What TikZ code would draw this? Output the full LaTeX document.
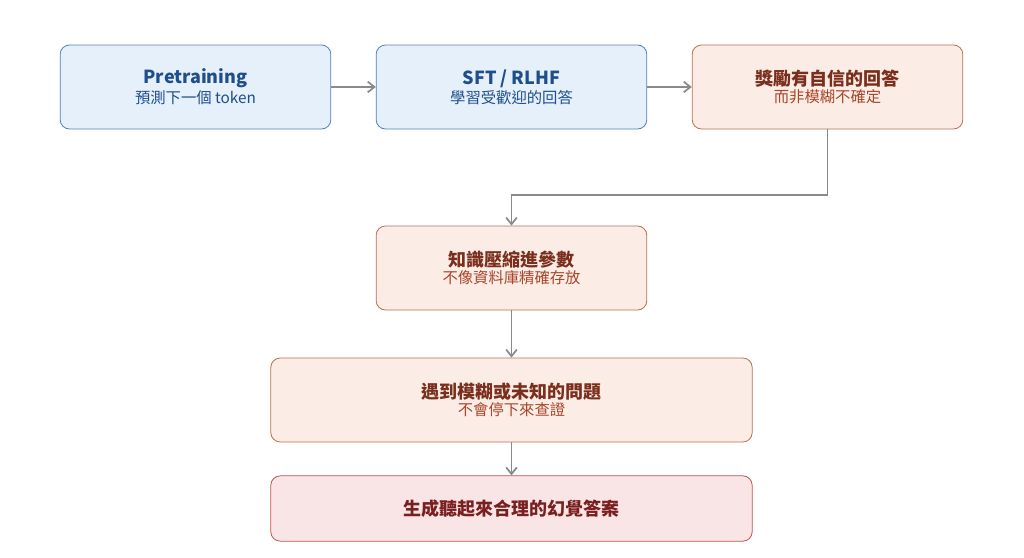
\documentclass[tikz,border=0pt]{standalone}
\usepackage{fontspec}
\setmainfont{Noto Sans CJK TC}
\usetikzlibrary{arrows.meta}
\definecolor{bluefill}{HTML}{E6F0FB}
\definecolor{blueline}{HTML}{4F81BD}
\definecolor{bluetext}{HTML}{1F4E8C}
\definecolor{peachfill}{HTML}{FBECE5}
\definecolor{peachline}{HTML}{BD6E52}
\definecolor{peachtitle}{HTML}{7A2E1C}
\definecolor{peachsub}{HTML}{A8452A}
\definecolor{pinkfill}{HTML}{F9E5E5}
\definecolor{pinkline}{HTML}{C0504D}
\definecolor{pinktext}{HTML}{7A1F1F}
\definecolor{arrowgray}{HTML}{8A8A8A}
\tikzset{
  stage/.style={draw, rounded corners=7pt, line width=0.6pt, align=center,
    inner sep=0pt, minimum height=63pt},
  blue stage/.style={stage, fill=bluefill, draw=blueline, text=bluetext},
  peach stage/.style={stage, fill=peachfill, draw=peachline, text=peachtitle},
  pink stage/.style={stage, fill=pinkfill, draw=pinkline, text=pinktext, minimum height=49pt},
  flow/.style={draw=arrowgray, line width=1.3pt, -{Straight Barb[length=5pt,width=8pt]}}
}
\newcommand{\stagetext}[3]{{\fontsize{13.5}{17}\selectfont\bfseries #1}\\[1pt]{\fontsize{11.5}{15}\selectfont\color{#3}#2}}
\begin{document}
\begin{tikzpicture}[x=0.75pt,y=-0.75pt]
  \useasboundingbox (0,0) rectangle (1024,557);
  % top row
  \node[blue stage, minimum width=203pt] (pre) at (195.5,87) {\stagetext{Pretraining}{預測下一個 token}{bluetext}};
  \node[blue stage, minimum width=203pt] (sft) at (511.5,87) {\stagetext{SFT / RLHF}{學習受歡迎的回答}{bluetext}};
  \node[peach stage, minimum width=203pt] (reward) at (827.5,87) {\stagetext{獎勵有自信的回答}{而非模糊不確定}{peachsub}};
  % down the middle
  \node[peach stage, minimum width=203pt] (compress) at (511.5,268) {\stagetext{知識壓縮進參數}{不像資料庫精確存放}{peachsub}};
  \node[peach stage, minimum width=361pt] (fuzzy) at (511.5,400) {\stagetext{遇到模糊或未知的問題}{不會停下來查證}{peachsub}};
  \node[pink stage, minimum width=361pt] (halluc) at (511.5,508.5) {{\fontsize{13.5}{17}\selectfont\bfseries 生成聽起來合理的幻覺答案}};
  \coordinate (bend) at (827.5,195);
  % connectors
  \draw[flow] (pre) -- (sft);
  \draw[flow] (sft) -- (reward);
  \draw[flow] (reward.south) -- (bend) -| (compress.north);
  \draw[flow] (compress) -- (fuzzy);
  \draw[flow] (fuzzy) -- (halluc);
\end{tikzpicture}
\end{document}
